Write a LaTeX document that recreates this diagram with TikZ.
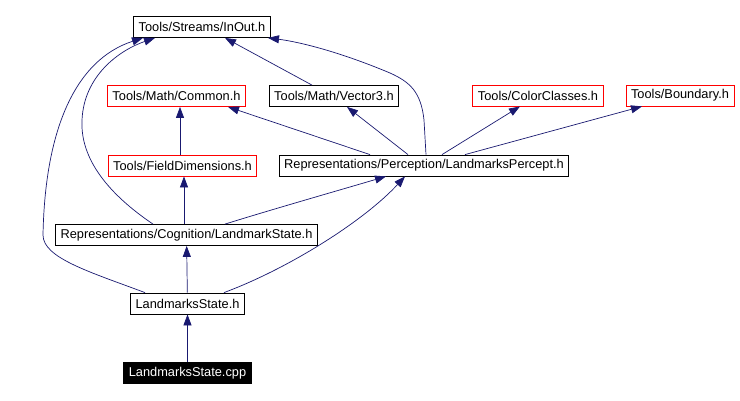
\documentclass[tikz,border=0pt]{standalone}
\usepackage{fontspec}
\setmainfont{Liberation Sans}
\usepackage{tikz}
\usetikzlibrary{arrows.meta}
\definecolor{edgeblue}{HTML}{191970}
\tikzstyle{file} = [draw=black, line width=0.8pt, inner xsep=5pt, inner ysep=0pt, minimum height=21pt, font=\fontsize{12.8}{14}\selectfont]
\tikzstyle{missing} = [file, draw=red]
\tikzstyle{focus} = [file, fill=black, text=white]
\tikzstyle{dep} = [draw=edgeblue, line width=0.7pt, -{Triangle[length=11pt,width=8pt]}]

\begin{document}
\begin{tikzpicture}[x=1pt, y=-1pt]
    \useasboundingbox (0,0) rectangle (740,401);
    % headers
    \node[file]    (inout)    at (202,27)    {Tools/Streams/InOut.h};
    \node[missing] (common)   at (176.5,96)  {Tools/Math/Common.h};
    \node[file]    (vector)   at (334,96)    {Tools/Math/Vector3.h};
    \node[missing] (color)    at (538,95.5)  {Tools/ColorClasses.h};
    \node[missing] (boundary) at (680,95.5)  {Tools/Boundary.h};
    \node[missing] (field)    at (182.5,165.5) {Tools/FieldDimensions.h};
    \node[file]    (percept)  at (424,165.5) {Representations/Perception/LandmarksPercept.h};
    \node[file]    (cog)      at (186.5,235) {Representations/Cognition/LandmarkState.h};
    \node[file]    (state)    at (187.5,303.5) {LandmarksState.h};
    \node[focus]   (cpp)      at (187.5,373) {LandmarksState.cpp};

    % straight includes
    \draw[dep] (cpp) -- (state);
    \draw[dep] (state) -- (cog);
    \draw[dep] ([xshift=-2.5pt]cog.north) -- ([xshift=1.5pt]field.south);
    \draw[dep] ([xshift=-2.5pt]field.north) -- ([xshift=3.5pt]common.south);
    \draw[dep] ([xshift=-22pt]vector.north) -- ([xshift=23pt]inout.south);
    \draw[dep] ([xshift=-54pt]percept.north) -- ([xshift=51.5pt]common.south);
    \draw[dep] ([xshift=-16pt]percept.north) -- ([xshift=13pt]vector.south);
    \draw[dep] ([xshift=18pt]percept.north) -- ([xshift=-18pt]color.south);
    \draw[dep] ([xshift=41pt]percept.north) -- ([xshift=-38pt]boundary.south);

    % curved includes
    \draw[dep] ([xshift=36.5pt]state.north) .. controls (290,268) and (365,220) .. ([xshift=-19pt]percept.south);
    \draw[dep] ([xshift=38.5pt]cog.north) .. controls (270,210) and (340,190) .. ([xshift=-38pt]percept.south);
    \draw[dep] ([xshift=-42.5pt]state.north) .. controls (90,272) and (43,258) .. (43,235)
        .. controls (45,130) and (75,60) .. ([xshift=-59pt]inout.south);
    \draw[dep] ([xshift=-33.5pt]cog.north) .. controls (110,195) and (80,160) .. (82,120)
        .. controls (84,75) and (120,50) .. ([xshift=-47pt]inout.south);
    \draw[dep] ([xshift=2pt]percept.north) -- (424,120) .. controls (421,92) and (410,82) .. (390,73)
        .. controls (340,52) and (300,42) .. ([xshift=66pt]inout.south);
\end{tikzpicture}
\end{document}
